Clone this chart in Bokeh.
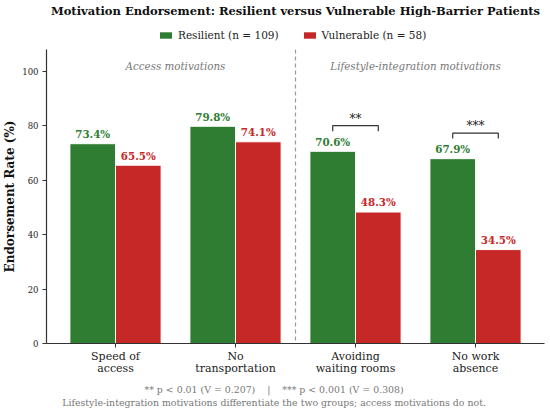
from bokeh.plotting import figure
from bokeh.layouts import column
from bokeh.models import (Range1d, FixedTicker, Label, Span, Legend, LegendItem,
                          ColumnDataSource)
from bokeh.core.properties import value
from bokeh.embed import file_html
from bokeh.resources import INLINE

# ---- data ----
categories = ["Speed of\naccess", "No\ntransportation", "Avoiding\nwaiting rooms", "No work\nabsence"]
resilient = [73.4, 79.8, 70.6, 67.9]
vulnerable = [65.5, 74.1, 48.3, 34.5]
significance = ["", "", "**", "***"]
series_names = ["Resilient (n = 109)", "Vulnerable (n = 58)"]
section_names = ["Access motivations", "Lifestyle-integration motivations"]
y_ticks = [0, 20, 40, 60, 80, 100]
title_text = "Motivation Endorsement: Resilient versus Vulnerable High-Barrier Patients"
y_label = "Endorsement Rate (%)"
GAP = "\u00a0" * 4
footnotes = ["** p < 0.01 (V = 0.207)" + GAP + "|" + GAP + "*** p < 0.001 (V = 0.308)",
             "Lifestyle-integration motivations differentiate the two groups; access motivations do not."]

# ---- style ----
GREEN = "#2e7d32"
RED = "#c62828"
FONT = "DejaVu Serif"
INK = "#222222"
GREY = "#777777"
BAR_W = 0.38
W = 550
LEFT, RIGHT = 44, 6
HEAD_H, MAIN_H, FOOT_H = 49, 331, 34


def blank(h):
    # frame spans page columns LEFT .. W-RIGHT; x units are page pixels
    f = figure(width=W, height=h, output_backend="svg", toolbar_location=None,
               x_range=Range1d(LEFT, W - RIGHT), y_range=Range1d(h, 0),
               x_axis_type=None, y_axis_type=None,
               min_border_left=LEFT, min_border_right=RIGHT,
               min_border_top=0, min_border_bottom=0)
    f.outline_line_color = None
    f.background_fill_color = "white"
    f.border_fill_color = "white"
    return f


# ---------- header: title + legend ----------
head = blank(HEAD_H)
head.add_layout(Label(x=294, y=10.5, text=title_text, text_align="center",
                      text_baseline="middle", text_font=FONT, text_font_style="bold",
                      text_font_size="11.5px", text_color="#111111"))
proxy_src = ColumnDataSource(dict(x=[LEFT], top=[0]))
proxy_r = head.vbar(x="x", top="top", width=0, source=proxy_src, fill_color=GREEN,
                    line_color="white", line_alpha=0)
proxy_v = head.vbar(x="x", top="top", width=0, source=proxy_src, fill_color=RED,
                    line_color="white", line_alpha=0)
legend = Legend(items=[LegendItem(label=series_names[0], renderers=[proxy_r]),
                       LegendItem(label=series_names[1], renderers=[proxy_v])],
                orientation="horizontal", location=(112, 8), padding=0, margin=0,
                spacing=23, glyph_width=15, glyph_height=8, label_standoff=5,
                label_height=12, border_line_color=None, background_fill_alpha=0,
                label_text_font=FONT, label_text_font_size="10.5px", label_text_color=INK)
head.add_layout(legend, "center")

# ---------- main chart ----------
xs = list(range(len(categories)))
p = figure(width=W, height=MAIN_H, output_backend="svg", toolbar_location=None,
           x_range=Range1d(-0.575, len(categories) - 0.425), y_range=Range1d(0, 108),
           min_border_left=LEFT, min_border_right=RIGHT, min_border_top=0, min_border_bottom=37)
p.outline_line_color = None
p.xgrid.visible = False
p.ygrid.visible = False
p.background_fill_color = "white"
p.border_fill_color = "white"

src_r = ColumnDataSource(dict(x=[i - BAR_W / 2 for i in xs], top=resilient,
                              ly=[v + 3.5 for v in resilient],
                              lab=[f"{v:.1f}%" for v in resilient]))
src_v = ColumnDataSource(dict(x=[i + BAR_W / 2 for i in xs], top=vulnerable,
                              ly=[v + 3.5 for v in vulnerable],
                              lab=[f"{v:.1f}%" for v in vulnerable]))
p.vbar(x="x", top="top", width=BAR_W, source=src_r, fill_color=GREEN,
       line_color="white", line_width=1)
p.vbar(x="x", top="top", width=BAR_W, source=src_v, fill_color=RED,
       line_color="white", line_width=1)

for src, col in ((src_r, GREEN), (src_v, RED)):
    p.text(x="x", y="ly", text="lab", source=src, text_align="center",
           text_baseline="alphabetic", text_font=value(FONT), text_font_style="bold",
           text_font_size="10.3px", text_color=col)

# significance brackets
bx, by, sx, sy, st = [], [], [], [], []
for i, s in enumerate(significance):
    if not s:
        continue
    top = max(resilient[i], vulnerable[i]) + 9.4
    bx.append([i - BAR_W / 2, i - BAR_W / 2, i + BAR_W / 2, i + BAR_W / 2])
    by.append([top - 2, top, top, top - 2])
    sx.append(i)
    sy.append(top + 2.5)
    st.append(s)
p.multi_line(xs=bx, ys=by, line_color="#333333", line_width=1.2)
p.text(x=sx, y=sy, text=st, text_align="center", text_baseline="alphabetic",
       text_font=value(FONT), text_font_size="12px", text_color=INK)

# divider between sections
p.add_layout(Span(location=1.5, dimension="height", line_color="#999999",
                  line_dash="4 3", line_width=1.2))

# section labels
for k, name in enumerate(section_names):
    p.add_layout(Label(x=0.5 + 2 * k, y=102, text=name, text_align="center",
                       text_baseline="middle", text_font=FONT, text_font_style="italic",
                       text_font_size="10.3px", text_color=GREY))

# axes
p.xaxis.ticker = FixedTicker(ticks=xs)
p.xaxis.major_label_overrides = {i: c for i, c in enumerate(categories)}
p.yaxis.ticker = FixedTicker(ticks=y_ticks)
for ax in (p.xaxis, p.yaxis):
    ax.axis_line_color = "#333333"
    ax.axis_line_width = 1.2
    ax.major_tick_line_color = "#333333"
    ax.major_tick_line_width = 1
    ax.major_tick_in = 0
    ax.major_tick_out = 4
    ax.minor_tick_line_color = None
    ax.major_label_text_font = FONT
    ax.major_label_text_color = INK
p.xaxis.major_label_text_font_size = "11px"
p.xaxis.major_label_text_line_height = 0.94
p.xaxis.major_label_standoff = 2
p.yaxis.major_label_text_font_size = "8.5px"
p.yaxis.major_label_standoff = 4
p.yaxis.axis_label = y_label
p.yaxis.axis_label_text_font = FONT
p.yaxis.axis_label_text_font_style = "bold"
p.yaxis.axis_label_text_font_size = "12px"
p.yaxis.axis_label_text_color = "#111111"
p.yaxis.axis_label_standoff = 2

# ---------- footer: notes ----------
foot = blank(FOOT_H)
for j, line in enumerate(footnotes):
    foot.add_layout(Label(x=272.5, y=9 + 12.7 * j, text=line, text_align="center",
                          text_baseline="middle", text_font=FONT, text_font_size="9.4px",
                          text_color=GREY))

page = column(head, p, foot, spacing=0)
open("out.html", "w").write(file_html(page, INLINE))
